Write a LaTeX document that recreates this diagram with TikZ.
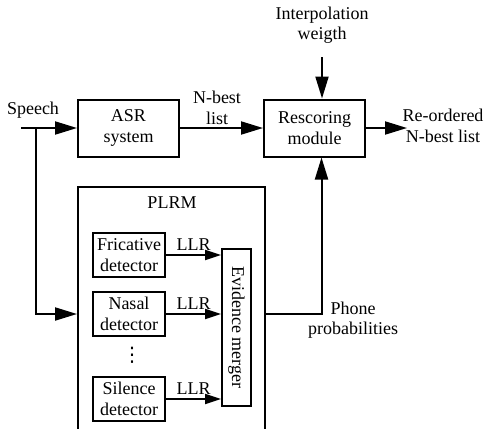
\documentclass[tikz,border=0pt]{standalone}
\usepackage{fontspec}
\setmainfont{Liberation Serif}
\newfontfamily\symfont{DejaVu Sans}
\usetikzlibrary{arrows.meta, positioning}

\begin{document}
\begin{tikzpicture}[
    x=0.5pt, y=-0.5pt,
    font=\fontsize{9}{10.2}\selectfont,
    box/.style={draw, line width=1pt, align=center, inner sep=0pt},
    blk/.style={box, minimum width=50.5pt, minimum height=28.5pt},
    det/.style={box, minimum width=36pt, minimum height=22pt},
    txt/.style={align=center, inner sep=0pt},
    arr/.style={-{Triangle[length=11pt, width=6.5pt]}, line width=1pt},
    sarr/.style={-{Triangle[length=8pt, width=5pt]}, line width=1pt},
]
\useasboundingbox (0,0) rectangle (485,428);
\clip (0,0) rectangle (485,428);

% top row: recognizer and rescoring
\node[blk] (asr) at (128.5,128) {ASR\\system};
\node[blk] (resc) at (314.5,128) {Rescoring\\module};
\node[txt] (speech) at (33,110) {Speech};
\node[txt] (nbest) at (217,108) {N-best\\list};
\node[txt] (interp) at (322,25) {Interpolation\\weigth};
\node[txt] (reord) at (443,126) {Re-ordered\\N-best list};
\coordinate (sin) at (21,128);
\coordinate (br) at (36,128);
\coordinate (wtop) at (322,57);
\coordinate (rout) at (407,128);
\draw[arr] (sin) -- (asr);
\draw[arr] (asr) -- (resc);
\draw[arr] (wtop) -- (wtop |- resc.north);
\draw[arr] (resc) -- (rout);

% PLRM block (open at the bottom, cut by the clip)
\node[box, minimum width=93.5pt, minimum height=130pt, anchor=north] (plrm) at (171.5,186) {};
\node[txt] (plrmlbl) at (172,203) {PLRM};
\node[det] (fric) at (129,255) {Fricative\\detector};
\node[det] (nasal) at (129,314) {Nasal\\detector};
\node[det] (sil) at (129,399) {Silence\\detector};
\node[txt, font=\fontsize{10}{10}\symfont] (dots) at (132,355) {⋮};
\node[box, rotate=-90, minimum width=78.5pt, minimum height=14.5pt] (merger) at (236.5,327.5) {Evidence merger};
\foreach \d in {fric, nasal, sil}
  \draw[sarr] (\d.east) -- (\d.east -| merger.south) node[midway, above=2pt, inner sep=0pt] {LLR};

% feeds into and out of PLRM
\draw[arr] (br) |- (plrm.west |- nasal);
\node[txt] (phone) at (353,320) {Phone\\probabilities};
\draw[arr] (plrm.east |- nasal) -| ([xshift=3.5pt]resc.south);
\end{tikzpicture}
\end{document}
